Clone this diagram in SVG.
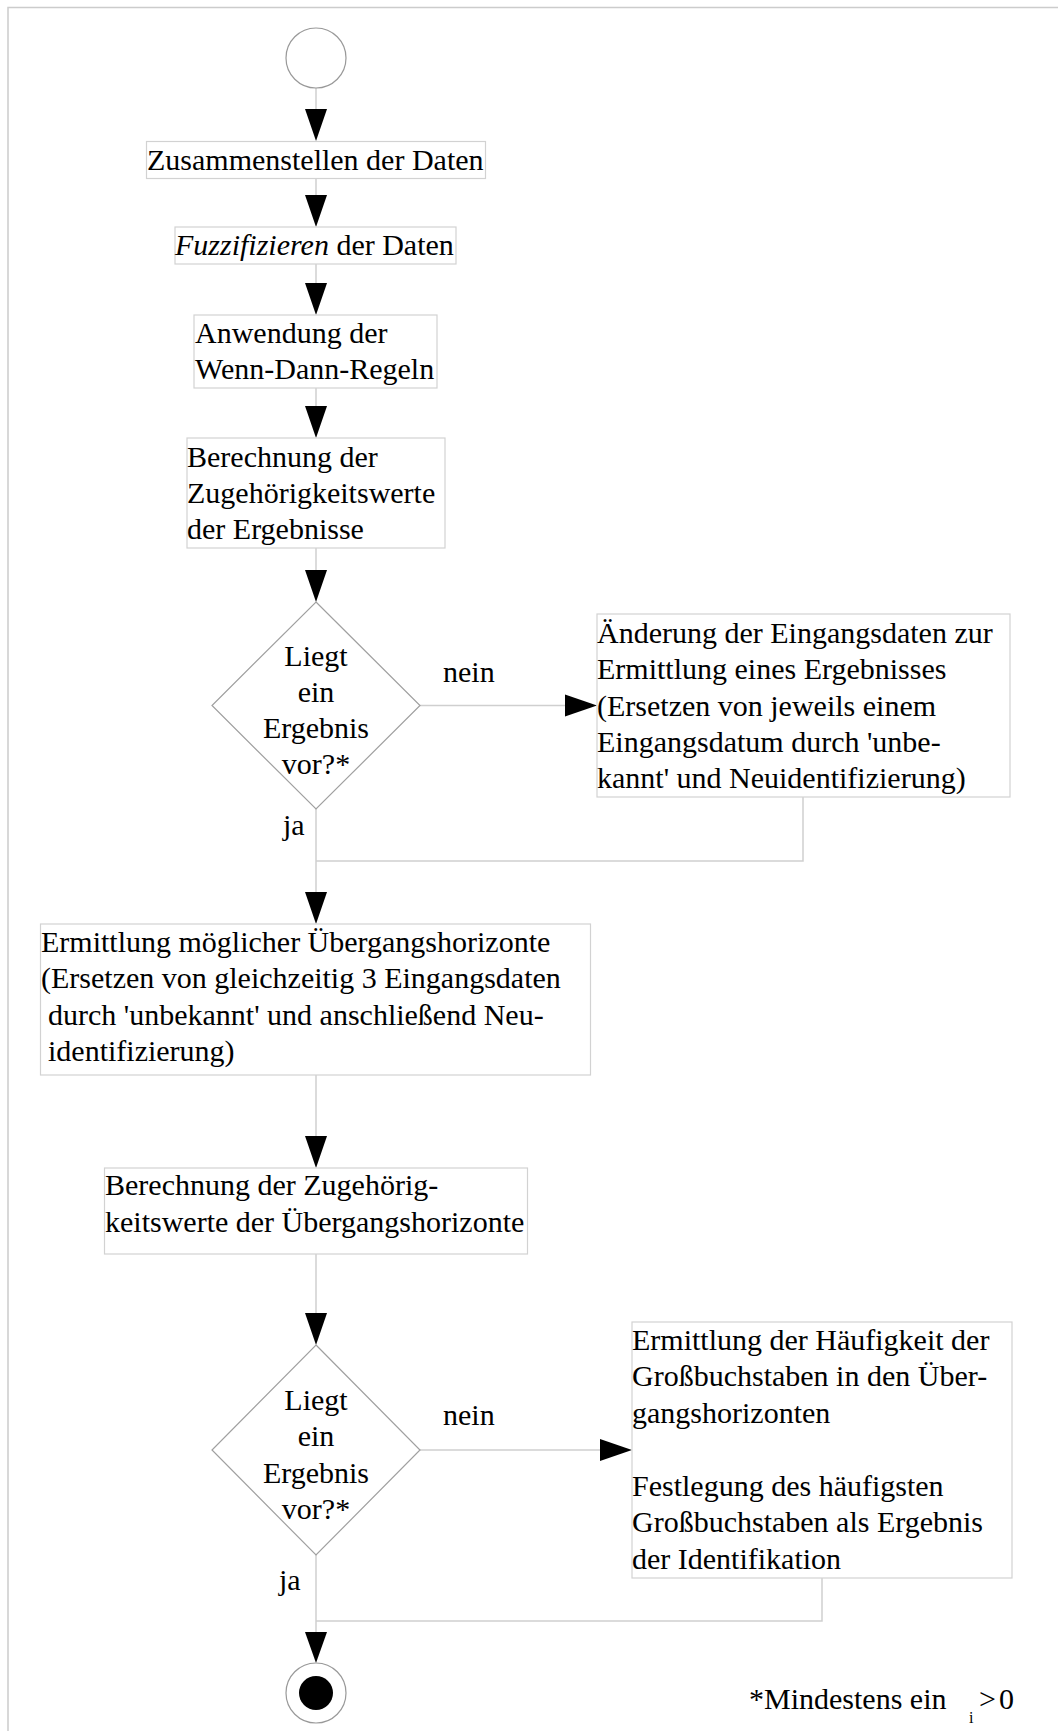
<svg xmlns="http://www.w3.org/2000/svg" width="1058" height="1731" viewBox="0 0 1058 1731">
<style>
text{font-family:"Liberation Serif","Times New Roman",serif;font-size:30px;fill:#000}
.c{text-anchor:middle}
.box{fill:#fff;stroke:#d2d2d2;stroke-width:1.2}
.dia{fill:#fff;stroke:#a0a0a0;stroke-width:1.2}
.ln{fill:none;stroke:#cfcfcf;stroke-width:1.5}
.ah{fill:#000}
</style>
<rect width="1058" height="1731" fill="#fff"/>
<g id="frame"><path d="M8 1731 V7.5 H1058" fill="none" stroke="#cccccc" stroke-width="1.5"/></g>
<g id="connectors">
<path class="ln" d="M316 88 V110"/>
<polygon class="ah" points="305,109 327,109 316,141"/>
<path class="ln" d="M316 178 V196"/>
<polygon class="ah" points="305,195 327,195 316,227"/>
<path class="ln" d="M316 264 V284"/>
<polygon class="ah" points="305,283 327,283 316,315"/>
<path class="ln" d="M316 388 V407"/>
<polygon class="ah" points="305,406 327,406 316,438"/>
<path class="ln" d="M316 548 V571"/>
<polygon class="ah" points="305,570 327,570 316,602"/>
<path class="ln" d="M420 705.5 H566"/>
<polygon class="ah" points="565,694.5 565,716.5 597,705.5"/>
<path class="ln" d="M316 809 V893"/>
<path class="ln" d="M803 797 V861 H316"/>
<polygon class="ah" points="305,892 327,892 316,924"/>
<path class="ln" d="M316 1075 V1137"/>
<polygon class="ah" points="305,1136 327,1136 316,1168"/>
<path class="ln" d="M316 1254 V1314"/>
<polygon class="ah" points="305,1313 327,1313 316,1345"/>
<path class="ln" d="M420 1450 H601"/>
<polygon class="ah" points="600,1439 600,1461 632,1450"/>
<path class="ln" d="M316 1555 V1633"/>
<path class="ln" d="M822 1578 V1621 H316"/>
<polygon class="ah" points="305,1632 327,1632 316,1663"/>
</g>
<g id="start"><circle cx="316" cy="58" r="30" fill="#fff" stroke="#999" stroke-width="1.2"/></g>
<g id="n1"><rect class="box" x="146.5" y="141.5" width="339" height="37"/><text x="147" y="170">Zusammenstellen der Daten</text></g>
<g id="n2"><rect class="box" x="175" y="227" width="281" height="37"/><text x="175" y="255"><tspan font-style="italic">Fuzzifizieren</tspan> der Daten</text></g>
<g id="n3"><rect class="box" x="194" y="315" width="243" height="73"/><text x="195" y="343">Anwendung der</text><text x="195" y="379">Wenn-Dann-Regeln</text></g>
<g id="n4"><rect class="box" x="187" y="438" width="258" height="110"/><text x="187" y="467">Berechnung der</text><text x="187" y="503">Zugehörigkeitswerte</text><text x="187" y="539">der Ergebnisse</text></g>
<g id="d1"><polygon class="dia" points="316,602 420,705.5 316,809 212,705.5"/><text class="c" x="316" y="666">Liegt</text><text class="c" x="316" y="702">ein</text><text class="c" x="316" y="738">Ergebnis</text><text class="c" x="316" y="774">vor?*</text></g>
<g id="l1"><text x="443" y="682">nein</text><text x="283" y="835">ja</text></g>
<g id="n5"><rect class="box" x="597" y="614" width="413" height="183"/><text x="597" y="643">Änderung der Eingangsdaten zur</text><text x="597" y="679">Ermittlung eines Ergebnisses</text><text x="597" y="716">(Ersetzen von jeweils einem</text><text x="597" y="752">Eingangsdatum durch 'unbe-</text><text x="597" y="788">kannt' und Neuidentifizierung)</text></g>
<g id="n6"><rect class="box" x="40.5" y="924" width="550" height="151"/><text x="41" y="952">Ermittlung möglicher Übergangshorizonte</text><text x="41" y="988">(Ersetzen von gleichzeitig 3 Eingangsdaten</text><text x="48" y="1025">durch 'unbekannt' und anschließend Neu-</text><text x="48" y="1061">identifizierung)</text></g>
<g id="n7"><rect class="box" x="104.5" y="1168" width="423" height="86"/><text x="105" y="1195">Berechnung der Zugehörig-</text><text x="105" y="1232">keitswerte der Übergangshorizonte</text></g>
<g id="d2"><polygon class="dia" points="316,1345 420,1450 316,1555 212,1450"/><text class="c" x="316" y="1410">Liegt</text><text class="c" x="316" y="1446">ein</text><text class="c" x="316" y="1483">Ergebnis</text><text class="c" x="316" y="1519">vor?*</text></g>
<g id="l2"><text x="443" y="1425">nein</text><text x="279" y="1590">ja</text></g>
<g id="n8"><rect class="box" x="632" y="1322" width="380" height="256"/><text x="632" y="1349.5">Ermittlung der Häufigkeit der</text><text x="632" y="1386">Großbuchstaben in den Über-</text><text x="632" y="1422.5">gangshorizonten</text><text x="632" y="1495.5">Festlegung des häufigsten</text><text x="632" y="1532">Großbuchstaben als Ergebnis</text><text x="632" y="1568.5">der Identifikation</text></g>
<g id="end"><circle cx="316" cy="1693" r="30" fill="#fff" stroke="#999" stroke-width="1.2"/><circle cx="316" cy="1693" r="17" fill="#000"/></g>
<g id="note"><text x="749" y="1709">*Mindestens ein</text><text x="969" y="1723" style="font-size:16px">i</text><text x="979" y="1709">&gt;</text><text x="999" y="1709">0</text></g>
</svg>
